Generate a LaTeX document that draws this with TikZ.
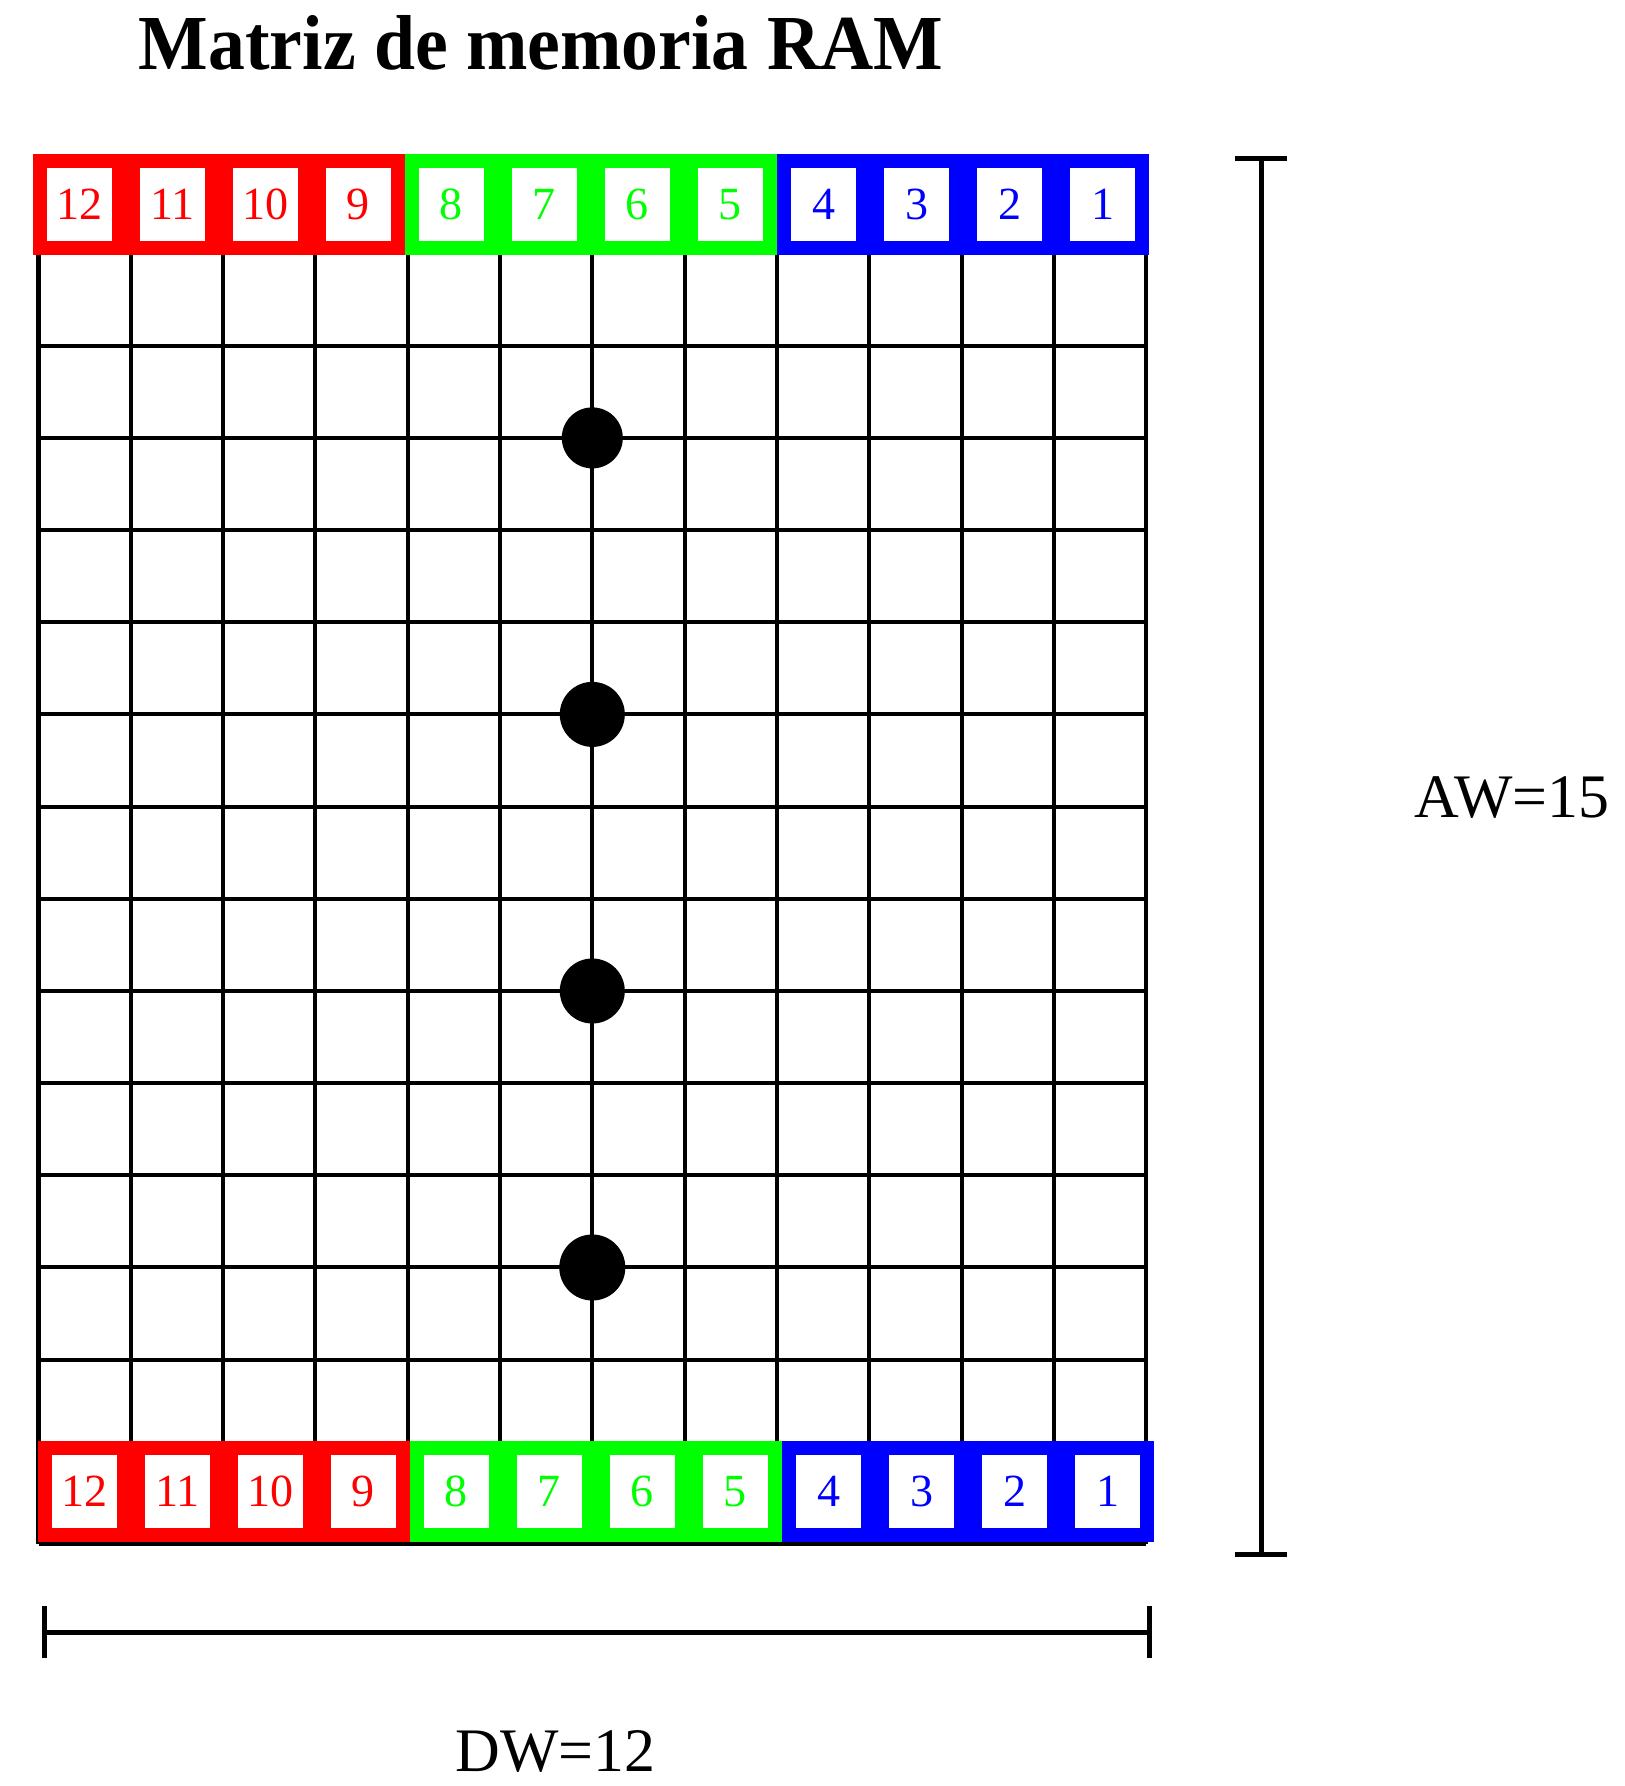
\documentclass[tikz,border=0pt]{standalone}
\usepackage{fontspec}
\setmainfont{Liberation Serif}
\usepackage{xcolor}
\usepackage{tikz}
\usetikzlibrary{arrows.meta}
\definecolor{bitred}{RGB}{255,0,0}
\definecolor{bitgreen}{RGB}{0,255,0}
\definecolor{bitblue}{RGB}{0,0,255}

\begin{document}
\begin{tikzpicture}[x=0.01cm, y=-0.01cm, bitbox/.style={draw, fill=white, line width=0.14cm, minimum width=0.79cm, minimum height=0.87cm, inner sep=0pt, font=\fontsize{13.1}{15}\selectfont}, redbit/.style={bitbox, draw=bitred, text=bitred}, greenbit/.style={bitbox, draw=bitgreen, text=bitgreen}, bluebit/.style={bitbox, draw=bitblue, text=bitblue}, gridline/.style={draw=black, line width=0.04cm}, bitdot/.style={circle, fill=black, inner sep=0pt, minimum size=0.61cm}, dimline/.style={{Bar[width=0.52cm]}-{Bar[width=0.52cm]}, line width=0.05cm}, dimlabel/.style={font=\fontsize{17.6}{21}\selectfont}]
\useasboundingbox (0,0) rectangle (1624,1786);
\node[font=\fontsize{21.5}{26}\selectfont\bfseries] (title) at (541,43) {\scalebox{0.975}[1.03]{Matriz de memoria RAM}};
% rejilla de celdas
\foreach \i in {0,...,12} \draw[gridline] (38.5+92.3*\i,253.5) -- (38.5+92.3*\i,1544);
\foreach \j in {0,...,14} \draw[gridline] (38.5,253.5+92.18*\j) -- (1146.1,253.5+92.18*\j);
\node[bitdot] (d1) at (592.3,437.9) {};
\node[bitdot, minimum size=0.65cm] (d2) at (592.3,714.4) {};
\node[bitdot, minimum size=0.65cm] (d3) at (592.3,991.0) {};
\node[bitdot, minimum size=0.66cm] (d4) at (592.3,1267.5) {};
% fila superior
\node[redbit] (t12) at (79.5,204.5) {12};
\node[redbit] (t11) at (172.5,204.5) {11};
\node[redbit] (t10) at (265.5,204.5) {10};
\node[redbit] (t9) at (358.5,204.5) {9};
\node[greenbit] (t8) at (451.5,204.5) {8};
\node[greenbit] (t7) at (544.5,204.5) {7};
\node[greenbit] (t6) at (637.5,204.5) {6};
\node[greenbit] (t5) at (730.5,204.5) {5};
\node[bluebit] (t4) at (823.5,204.5) {4};
\node[bluebit] (t3) at (916.5,204.5) {3};
\node[bluebit] (t2) at (1009.5,204.5) {2};
\node[bluebit] (t1) at (1102.5,204.5) {1};
% fila inferior
\node[redbit] (b12) at (84.5,1491.5) {12};
\node[redbit] (b11) at (177.5,1491.5) {11};
\node[redbit] (b10) at (270.5,1491.5) {10};
\node[redbit] (b9) at (363.5,1491.5) {9};
\node[greenbit] (b8) at (456.5,1491.5) {8};
\node[greenbit] (b7) at (549.5,1491.5) {7};
\node[greenbit] (b6) at (642.5,1491.5) {6};
\node[greenbit] (b5) at (735.5,1491.5) {5};
\node[bluebit] (b4) at (828.5,1491.5) {4};
\node[bluebit] (b3) at (921.5,1491.5) {3};
\node[bluebit] (b2) at (1014.5,1491.5) {2};
\node[bluebit] (b1) at (1107.5,1491.5) {1};
% cotas
\coordinate (awtop) at (1261,156);
\coordinate (awbot) at (1261,1557);
\draw[dimline] (awtop) -- (awbot);
\node[dimlabel] (aw) at (1512,798) {AW=15};
\coordinate (dwleft) at (42,1632);
\coordinate (dwright) at (1152,1632);
\draw[dimline] (dwleft) -- (dwright);
\node[dimlabel] (dw) at (555.5,1751.5) {DW=12};
\end{tikzpicture}
\end{document}
